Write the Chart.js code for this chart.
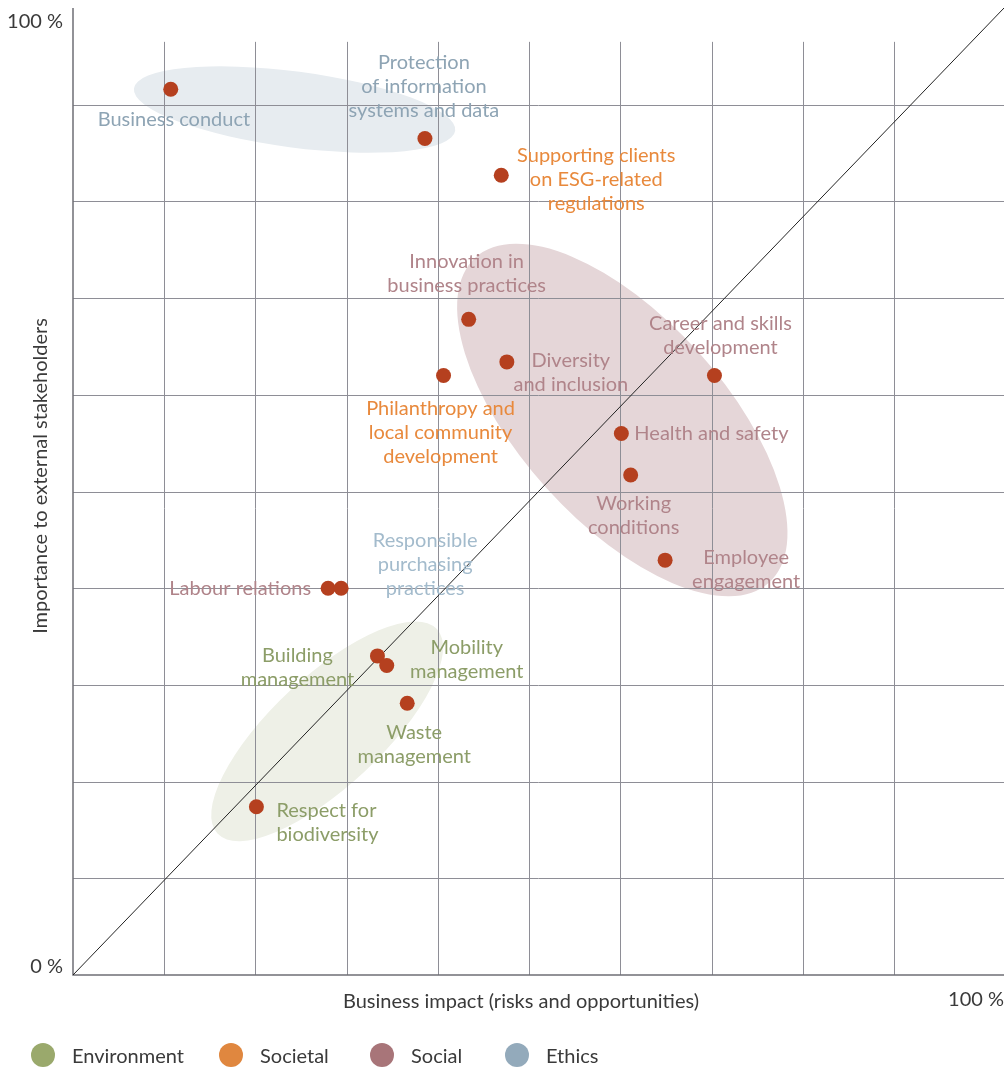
<!DOCTYPE html>
<html>
<head>
<meta charset="utf-8">
<script src="https://cdn.jsdelivr.net/npm/chart.js@4.4.1/dist/chart.umd.min.js"></script>
<style>
  html, body { margin: 0; padding: 0; background: #fff; overflow: hidden; }
  #wrap { position: relative; width: 1008px; height: 1068px; }
  #matrix { display: block; }
</style>
</head>
<body>
<div id="wrap"><canvas id="matrix"></canvas></div>
<script>
// materiality matrix data (values in %)
const topics = [
  'Business conduct',
  'Protection\nof information\nsystems and data',
  'Supporting clients\non ESG-related\nregulations',
  'Innovation in\nbusiness practices',
  'Diversity\nand inclusion',
  'Philanthropy and\nlocal community\ndevelopment',
  'Career and skills\ndevelopment',
  'Health and safety',
  'Working\nconditions',
  'Employee\nengagement',
  'Labour relations',
  'Responsible\npurchasing\npractices',
  'Building\nmanagement',
  'Mobility\nmanagement',
  'Waste\nmanagement',
  'Respect for\nbiodiversity'
];
const businessImpact = [10.5, 37.8, 46.0, 42.5, 46.6, 39.8, 68.9, 58.9, 59.9, 63.6, 27.4, 28.8, 32.7, 33.7, 35.9, 19.7];
const stakeholderImportance = [91.6, 86.5, 82.7, 67.8, 63.4, 62.0, 62.0, 56.0, 51.7, 42.9, 40.0, 40.0, 33.0, 32.0, 28.1, 17.4];
const topicGroup = ['Ethics', 'Ethics', 'Societal', 'Social', 'Social', 'Societal', 'Social', 'Social', 'Social', 'Social', 'Social', 'Ethics', 'Environment', 'Environment', 'Environment', 'Environment'];
const groupNames = ['Environment', 'Societal', 'Social', 'Ethics'];
const yGridValues = [10, 20, 30, 40, 50, 60, 70, 80, 90];
const xGridValues = [9.8, 19.6, 29.4, 39.2, 49.0, 58.8, 68.6, 78.4, 88.2];

// styling
const FONT = 'Lato, "Open Sans", sans-serif';
const groupDot = { Environment: '#9aa96c', Societal: '#e0873f', Social: '#a87579', Ethics: '#93aabb' };
const groupText = { Environment: '#8c9d68', Societal: '#e8893c', Social: '#b0848a', Ethics: '#8ea4b4' };
const pointColor = '#b5401f';

// label placement relative to the point (px): align, dx, dy of first line
const labelLayout = [
  ['left', -73, 30], ['center', -1, -76], ['center', 95, -20], ['center', -2, -58],
  ['center', 64, -1], ['center', -3, 33], ['center', 6, -52], ['left', 13, 0],
  ['center', 3, 28], ['center', 81, -3], ['right', -17, 0], ['center', 84, -48],
  ['center', -80, 0], ['center', 80, -18], ['center', 7, 29], ['left', 20, 4]
];

// group highlight ellipses: centre in axis values, radii in px, rotation in degrees
const groupEllipses = [
  { cx: 23.8, cy: 89.5, rx: 162, ry: 38, rot: 7.5, fill: '#e7ecf0' },
  { cx: 59.0, cy: 57.4, rx: 219, ry: 102, rot: 47.9, fill: '#e5d6d8' },
  { cx: 27.3, cy: 25.2, rx: 150, ry: 55, rot: -43, fill: '#eef0e7' }
];

const points = businessImpact.map((v, i) => ({ x: v, y: stakeholderImportance[i] }));

const matrixPlugin = {
  id: 'matrix',
  beforeDatasetsDraw(chart) {
    const { ctx, chartArea: a, scales: { x, y } } = chart;
    ctx.save();
    groupEllipses.forEach(e => {
      ctx.beginPath();
      ctx.ellipse(x.getPixelForValue(e.cx), y.getPixelForValue(e.cy), e.rx, e.ry, e.rot * Math.PI / 180, 0, Math.PI * 2);
      ctx.fillStyle = e.fill;
      ctx.fill();
    });
    // grid
    ctx.lineWidth = 1;
    ctx.strokeStyle = '#8e8e96';
    yGridValues.forEach(v => {
      const py = Math.round(y.getPixelForValue(v)) + 0.5;
      ctx.beginPath(); ctx.moveTo(a.left, py); ctx.lineTo(a.right, py); ctx.stroke();
    });
    const gridTop = y.getPixelForValue(96.5);
    xGridValues.forEach(v => {
      const px = Math.round(x.getPixelForValue(v)) + 0.5;
      ctx.beginPath(); ctx.moveTo(px, gridTop); ctx.lineTo(px, a.bottom); ctx.stroke();
    });
    // axes
    ctx.strokeStyle = '#6f6f75';
    ctx.lineWidth = 1.5;
    ctx.beginPath();
    ctx.moveTo(a.left, a.top);
    ctx.lineTo(a.left, a.bottom);
    ctx.lineTo(a.right, a.bottom);
    ctx.stroke();
    ctx.restore();
  },
  afterDatasetsDraw(chart) {
    const { ctx, chartArea: a, scales: { x, y } } = chart;
    ctx.save();
    ctx.font = '20px ' + FONT;
    ctx.textBaseline = 'middle';
    topics.forEach((t, i) => {
      const [align, dx, dy] = labelLayout[i];
      const px = x.getPixelForValue(businessImpact[i]) + dx;
      const py = y.getPixelForValue(stakeholderImportance[i]) + dy;
      ctx.fillStyle = i === 11 ? '#a3bbcc' : groupText[topicGroup[i]];
      ctx.textAlign = align;
      t.split('\n').forEach((line, k) => ctx.fillText(line, px, py + k * 24));
    });

    // axis texts
    ctx.fillStyle = '#3a3a3a';
    ctx.textAlign = 'right';
    ctx.fillText('100 %', a.left - 10, 22);
    ctx.fillText('0 %', a.left - 10, 967);
    ctx.fillText('100 %', a.right, 1000);
    ctx.textAlign = 'center';
    ctx.fillText('Business impact (risks and opportunities)', 521, 1002);
    ctx.save();
    ctx.translate(41, 476);
    ctx.rotate(-Math.PI / 2);
    ctx.fillText('Importance to external stakeholders', 0, 0);
    ctx.restore();

    // legend
    const legendX = [43, 231, 382, 517];
    ctx.textAlign = 'left';
    groupNames.forEach((g, i) => {
      ctx.beginPath();
      ctx.arc(legendX[i], 1055, 12, 0, Math.PI * 2);
      ctx.fillStyle = groupDot[g];
      ctx.fill();
      ctx.fillStyle = '#3a3a3a';
      ctx.fillText(g, legendX[i] + 29, 1057);
    });
    ctx.restore();
  }
};

new Chart(document.getElementById('matrix'), {
  type: 'scatter',
  data: {
    datasets: [
      {
        label: 'Topics',
        data: points,
        pointRadius: 7.5,
        pointHoverRadius: 7.5,
        pointBackgroundColor: pointColor,
        pointBorderWidth: 0
      },
      {
        type: 'line',
        label: 'Diagonal',
        data: [{ x: 0, y: 0 }, { x: 100, y: 100 }],
        borderColor: '#222',
        borderWidth: 1,
        pointRadius: 0,
        fill: false
      }
    ]
  },
  options: {
    responsive: true,
    maintainAspectRatio: false,
    animation: false,
    layout: { autoPadding: false, padding: { left: 73, right: 4, top: 8, bottom: 93 } },
    scales: {
      x: { type: 'linear', min: 0, max: 100, display: false },
      y: { type: 'linear', min: 0, max: 100, display: false }
    },
    plugins: { legend: { display: false }, tooltip: { enabled: false } }
  },
  plugins: [matrixPlugin]
});
</script>
</body>
</html>
